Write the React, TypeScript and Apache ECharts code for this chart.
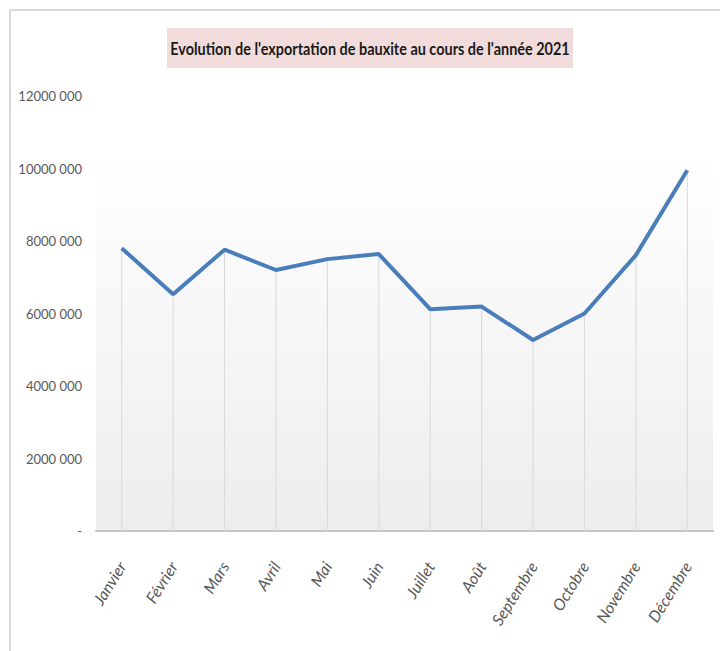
import React, { useEffect, useRef } from "react";
import * as echarts from "echarts";

const months = ["Janvier", "Février", "Mars", "Avril", "Mai", "Juin", "Juillet", "Août", "Septembre", "Octobre", "Novembre", "Décembre"];
const exports2021 = [7800000, 6530000, 7760000, 7200000, 7500000, 7640000, 6120000, 6190000, 5270000, 6000000, 7610000, 9950000];
const titleText = "Evolution de l'exportation de bauxite au cours de l'année 2021";

const fmt = (v: number) => {
  if (v === 0) return "-";
  const th = Math.floor(v / 1000);
  const rest = String(v % 1000).padStart(3, "0");
  return `${th} ${rest}`;
};

const FONT = "Lato, 'Open Sans', sans-serif";

export default function App() {
  const ref = useRef<HTMLDivElement>(null);
  useEffect(() => {
    document.body.style.margin = "0";
    const chart = echarts.init(ref.current!, null, { renderer: "svg" });
    chart.setOption({
      animation: false,
      backgroundColor: "#ffffff",
      grid: { left: 96, right: 7, top: 96, bottom: 120, containLabel: false },
      graphic: [
        { type: "line", z: 0, shape: { x1: 10, y1: 10, x2: 720, y2: 10 }, style: { stroke: "#d9d9d9", lineWidth: 2 } },
        { type: "line", z: 0, shape: { x1: 10, y1: 10, x2: 10, y2: 651 }, style: { stroke: "#d9d9d9", lineWidth: 2 } },
        {
          type: "rect", z: -10, silent: true,
          shape: { x: 96, y: 148, width: 617, height: 383 },
          style: {
            fill: new echarts.graphic.LinearGradient(0, 0, 0, 1, [
              { offset: 0, color: "#ffffff" },
              { offset: 1, color: "#ededed" },
            ]),
          },
        },
        { type: "rect", z: 0, shape: { x: 167, y: 28, width: 406, height: 40 }, style: { fill: "#f2dcdb" } },
        {
          type: "text", z: 1, x: 370, y: 48, scaleX: 0.85,
          style: { text: titleText, align: "center", verticalAlign: "middle", font: `bold 17px ${FONT}`, fill: "#1a1a1a" },
        },
      ],
      xAxis: {
        type: "category",
        data: months,
        boundaryGap: true,
        axisLine: { show: true, lineStyle: { color: "#c6c6c6", width: 2 } },
        axisTick: { show: false },
        splitLine: { show: false },
        axisLabel: {
          rotate: 58,
          margin: 32,
          color: "#595959",
          fontFamily: FONT,
          fontSize: 16,
          fontStyle: "italic",
          interval: 0,
          padding: [0, 0, 42, 0],
        },
      },
      yAxis: {
        type: "value",
        min: 0,
        max: 12000000,
        interval: 2000000,
        axisLine: { show: false },
        axisTick: { show: false },
        splitLine: { show: false },
        axisLabel: {
          formatter: (v: number) => fmt(v),
          color: "#595959",
          fontFamily: FONT,
          fontSize: 13,
          margin: 14,
        },
      },
      series: [
        {
          type: "bar",
          data: exports2021,
          barWidth: 1,
          itemStyle: { color: "#d9d9d9" },
          z: 1,
          silent: true,
        },
        {
          type: "line",
          data: exports2021,
          showSymbol: false,
          symbol: "none",
          lineStyle: { color: "#4a7ebb", width: 4 },
          z: 3,
        },
      ],
    });
    return () => chart.dispose();
  }, []);
  return <div ref={ref} style={{ width: 720, height: 651 }} />;
}
